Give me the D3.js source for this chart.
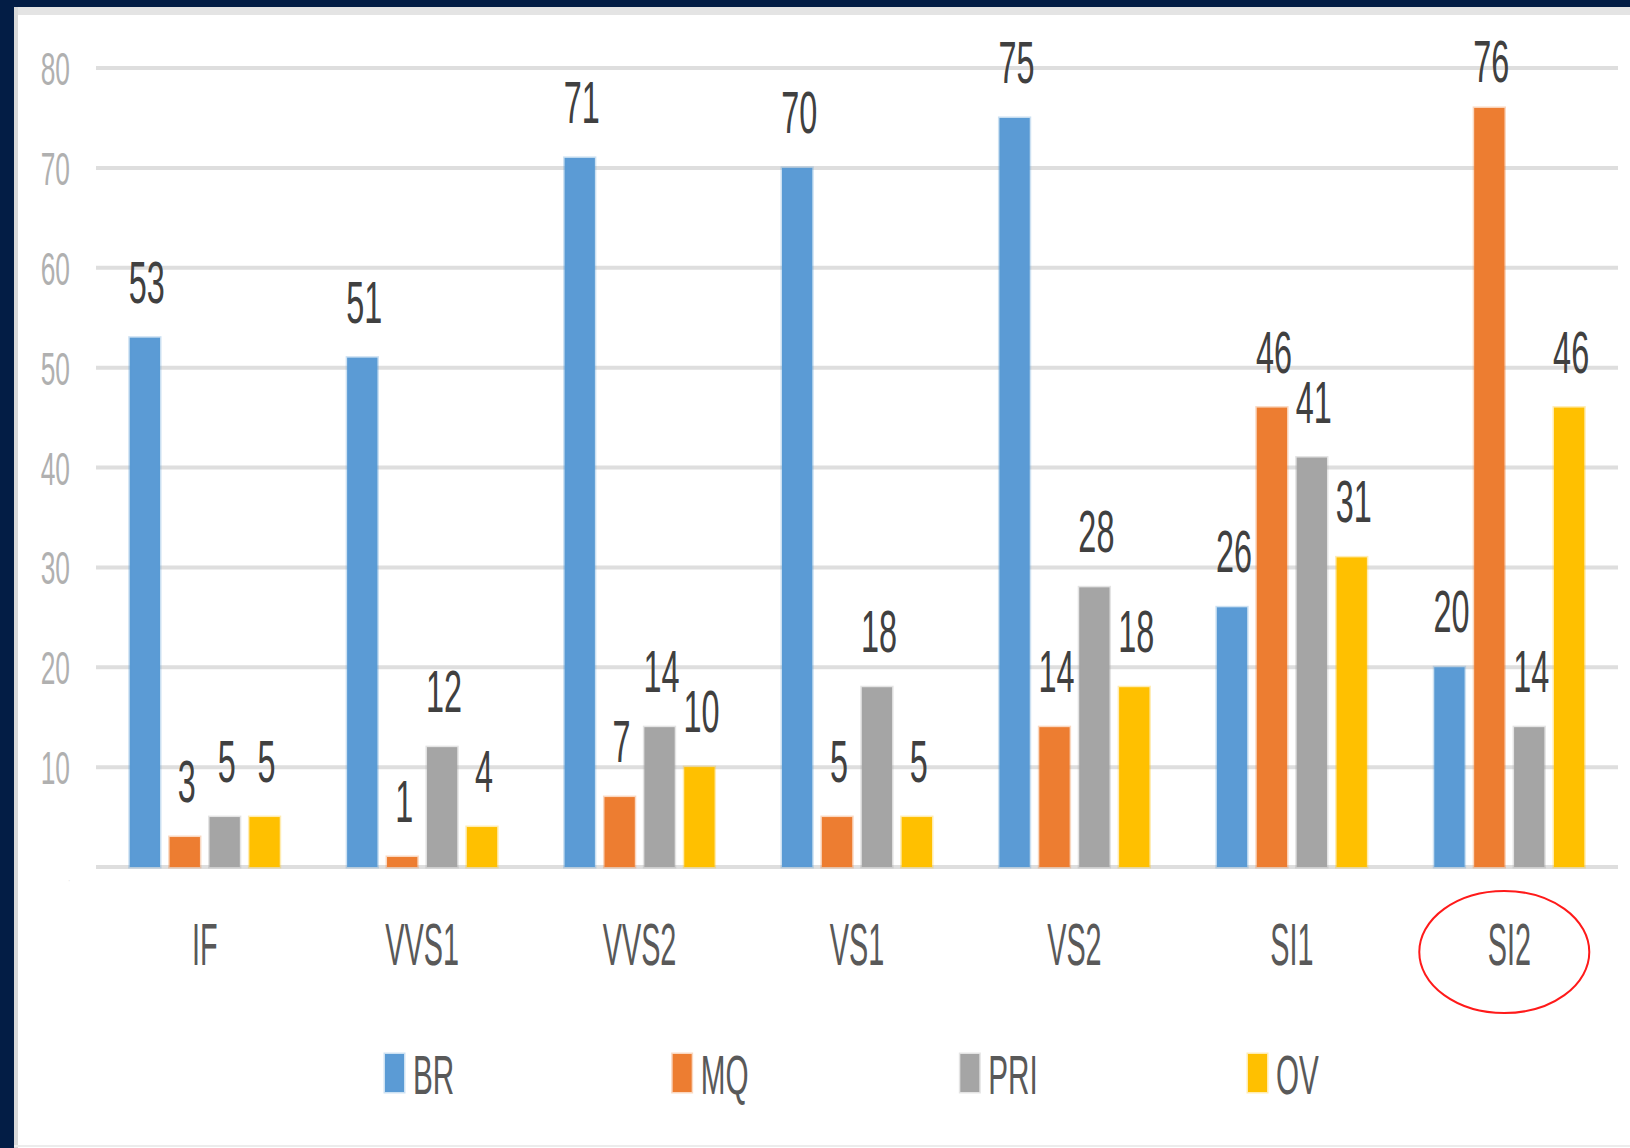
<!DOCTYPE html>
<html>
<head>
<meta charset="utf-8">
<script src="https://cdn.jsdelivr.net/npm/d3@7"></script>
<style>
  html, body { margin: 0; padding: 0; background: #fff; }
  svg { display: block; }
</style>
</head>
<body>
<div id="chart"></div>
<script>
const categories = ["IF", "VVS1", "VVS2", "VS1", "VS2", "SI1", "SI2"];
const seriesNames = ["BR", "MQ", "PRI", "OV"];
const brValues = [53, 51, 71, 70, 75, 26, 20];
const mqValues = [3, 1, 7, 5, 14, 46, 76];
const priValues = [5, 12, 14, 18, 28, 41, 14];
const ovValues = [5, 4, 10, 5, 18, 31, 46];
const yTicks = [0, 10, 20, 30, 40, 50, 60, 70, 80];
const highlighted = "SI2";

const width = 1630;
const height = 1148;

const colors = {BR: "#5b9bd5", MQ: "#ed7d31", PRI: "#a5a5a5", OV: "#ffc000"};
const seriesValues = {BR: brValues, MQ: mqValues, PRI: priValues, OV: ovValues};

const rows = categories.map((c, i) => ({
  cat: c,
  values: seriesNames.map(s => ({key: s, value: seriesValues[s][i]}))
}));

const svg = d3.select("#chart").append("svg")
  .attr("width", width)
  .attr("height", height)
  .attr("viewBox", [0, 0, width, height]);

// frame of the screenshot
svg.append("rect").attr("x", 0).attr("y", 0).attr("width", width).attr("height", height).attr("fill", "#fff");
svg.append("rect").attr("x", 14).attr("y", 7).attr("width", width - 14).attr("height", 8).attr("fill", "#e4e4e4");
svg.append("rect").attr("x", 14).attr("y", 7).attr("width", 4).attr("height", height).attr("fill", "#d9d9d9");
svg.append("rect").attr("x", 0).attr("y", 0).attr("width", 14).attr("height", height).attr("fill", "#031d45");
svg.append("rect").attr("x", 0).attr("y", 0).attr("width", width).attr("height", 7).attr("fill", "#031d45");
svg.append("rect").attr("x", 14).attr("y", height - 3).attr("width", width).attr("height", 2).attr("fill", "#ececec");

const x0 = d3.scaleBand()
  .domain(categories)
  .range([96, 1618])
  .paddingInner(0.31)
  .paddingOuter(0.155);

const x1 = d3.scaleBand()
  .domain(seriesNames)
  .range([0, x0.bandwidth()])
  .paddingInner(0.24);

const y = d3.scaleLinear()
  .domain([0, 80])
  .range([867, 68]);

const font = "'Liberation Sans', Arial, sans-serif";

// gridlines
svg.append("g")
  .selectAll("line")
  .data(yTicks)
  .join("line")
  .attr("x1", 96)
  .attr("x2", 1618)
  .attr("y1", d => y(d))
  .attr("y2", d => y(d))
  .attr("stroke", "#dedede")
  .attr("stroke-width", 4);

// y tick labels
svg.append("g")
  .selectAll("text")
  .data(yTicks)
  .join("text")
  .attr("transform", d => `translate(70, ${y(d) + 17}) scale(0.56, 1)`)
  .attr("text-anchor", "end")
  .attr("font-family", font)
  .attr("font-size", d => d === 0 ? 10 : 47)
  .attr("fill", d => d === 0 ? "#dcdcdc" : "#b0b0b0")
  .text(d => d === 0 ? "·" : d);

// bars
const groups = svg.append("g")
  .selectAll("g")
  .data(rows)
  .join("g")
  .attr("transform", d => `translate(${x0(d.cat)}, 0)`);

groups.selectAll("rect")
  .data(d => d.values)
  .join("rect")
  .attr("x", d => x1(d.key))
  .attr("y", d => y(d.value))
  .attr("width", x1.bandwidth())
  .attr("height", d => y(0) - y(d.value))
  .attr("fill", d => colors[d.key])
  .attr("stroke", d => colors[d.key])
  .attr("stroke-opacity", 0.3)
  .attr("stroke-width", 3);

// value labels (kept inside the plot area at the top)
groups.selectAll("text")
  .data(d => d.values)
  .join("text")
  .attr("transform", d => `translate(${x1(d.key) + x1.bandwidth() / 2 + 2}, ${Math.max(y(d.value) - 35, 82)}) scale(0.54, 1)`)
  .attr("text-anchor", "middle")
  .attr("font-family", font)
  .attr("font-size", 60)
  .attr("fill", "#404040")
  .text(d => d.value);

// category labels
svg.append("g")
  .selectAll("text")
  .data(categories)
  .join("text")
  .attr("transform", d => `translate(${x0(d) + x0.bandwidth() / 2}, 965) scale(0.48, 1)`)
  .attr("text-anchor", "middle")
  .attr("font-family", font)
  .attr("font-size", 60)
  .attr("fill", "#595959")
  .text(d => d);

// red circle around the highlighted grade
svg.append("ellipse")
  .attr("cx", x0(highlighted) + x0.bandwidth() / 2 - 5)
  .attr("cy", 952)
  .attr("rx", 85)
  .attr("ry", 61)
  .attr("fill", "none")
  .attr("stroke", "#ff1a1a")
  .attr("stroke-width", 2);

// legend
const legendX = d3.scalePoint()
  .domain(seriesNames)
  .range([385, 1248]);

const legend = svg.append("g")
  .selectAll("g")
  .data(seriesNames)
  .join("g")
  .attr("transform", d => `translate(${legendX(d)}, 1054)`);

legend.append("rect")
  .attr("width", 19)
  .attr("height", 38)
  .attr("fill", d => colors[d])
  .attr("stroke", d => colors[d])
  .attr("stroke-opacity", 0.3)
  .attr("stroke-width", 3);

legend.append("text")
  .attr("transform", "translate(28, 40) scale(0.53, 1)")
  .attr("font-family", font)
  .attr("font-size", 56)
  .attr("fill", "#595959")
  .text(d => d);
</script>
</body>
</html>
